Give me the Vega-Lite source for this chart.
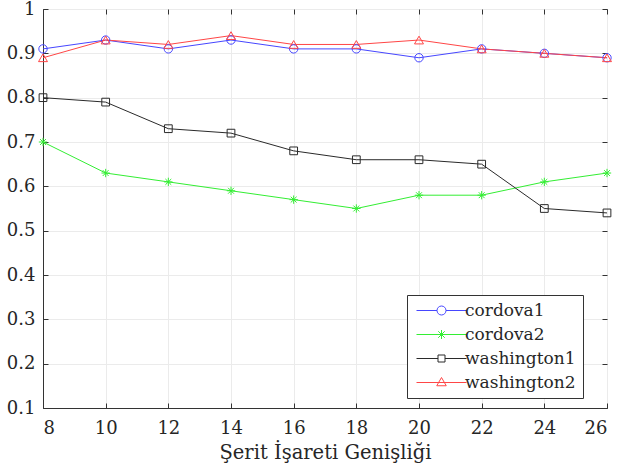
{
  "$schema": "https://vega.github.io/schema/vega-lite/v6.json",
  "width": 564,
  "height": 399,
  "autosize": {"type": "none"},
  "padding": {"left": 43, "top": 9, "right": 12, "bottom": 66},
  "background": "white",
  "config": {
    "font": "DejaVu Serif",
    "view": {"stroke": "#333333", "strokeWidth": 1},
    "axis": {
      "gridColor": "#ebebeb",
      "gridWidth": 1,
      "tickSize": -5,
      "tickColor": "#333333",
      "domainColor": "#333333",
      "labelFont": "DejaVu Serif",
      "labelFontSize": 18,
      "labelColor": "#262626",
      "titleFont": "DejaVu Serif",
      "titleFontSize": 19.5,
      "titleFontWeight": "normal",
      "titleColor": "#262626"
    },
    "legend": {"labelFont": "DejaVu Serif"}
  },
  "data": {
    "values": [
      {"x": 8, "v": 0.91, "s": "cordova1"},
      {"x": 10, "v": 0.93, "s": "cordova1"},
      {"x": 12, "v": 0.91, "s": "cordova1"},
      {"x": 14, "v": 0.93, "s": "cordova1"},
      {"x": 16, "v": 0.91, "s": "cordova1"},
      {"x": 18, "v": 0.91, "s": "cordova1"},
      {"x": 20, "v": 0.89, "s": "cordova1"},
      {"x": 22, "v": 0.91, "s": "cordova1"},
      {"x": 24, "v": 0.90, "s": "cordova1"},
      {"x": 26, "v": 0.89, "s": "cordova1"},
      {"x": 8, "v": 0.70, "s": "cordova2"},
      {"x": 10, "v": 0.63, "s": "cordova2"},
      {"x": 12, "v": 0.61, "s": "cordova2"},
      {"x": 14, "v": 0.59, "s": "cordova2"},
      {"x": 16, "v": 0.57, "s": "cordova2"},
      {"x": 18, "v": 0.55, "s": "cordova2"},
      {"x": 20, "v": 0.58, "s": "cordova2"},
      {"x": 22, "v": 0.58, "s": "cordova2"},
      {"x": 24, "v": 0.61, "s": "cordova2"},
      {"x": 26, "v": 0.63, "s": "cordova2"},
      {"x": 8, "v": 0.80, "s": "washington1"},
      {"x": 10, "v": 0.79, "s": "washington1"},
      {"x": 12, "v": 0.73, "s": "washington1"},
      {"x": 14, "v": 0.72, "s": "washington1"},
      {"x": 16, "v": 0.68, "s": "washington1"},
      {"x": 18, "v": 0.66, "s": "washington1"},
      {"x": 20, "v": 0.66, "s": "washington1"},
      {"x": 22, "v": 0.65, "s": "washington1"},
      {"x": 24, "v": 0.55, "s": "washington1"},
      {"x": 26, "v": 0.54, "s": "washington1"},
      {"x": 8, "v": 0.89, "s": "washington2"},
      {"x": 10, "v": 0.93, "s": "washington2"},
      {"x": 12, "v": 0.92, "s": "washington2"},
      {"x": 14, "v": 0.94, "s": "washington2"},
      {"x": 16, "v": 0.92, "s": "washington2"},
      {"x": 18, "v": 0.92, "s": "washington2"},
      {"x": 20, "v": 0.93, "s": "washington2"},
      {"x": 22, "v": 0.91, "s": "washington2"},
      {"x": 24, "v": 0.90, "s": "washington2"},
      {"x": 26, "v": 0.89, "s": "washington2"}
    ]
  },
  "layer": [
    {
      "encoding": {
        "x": {
          "field": "x",
          "type": "quantitative",
          "scale": {"domain": [8, 26], "nice": false, "zero": false},
          "axis": {
            "title": "Şerit İşareti Genişliği",
            "values": [8, 10, 12, 14, 16, 18, 20, 22, 24, 26],
            "labelPadding": 16,
            "titlePadding": 6
          }
        },
        "y": {
          "field": "v",
          "type": "quantitative",
          "scale": {"domain": [0.1, 1], "nice": false, "zero": false},
          "axis": {
            "title": null,
            "values": [0.1, 0.2, 0.3, 0.4, 0.5, 0.6, 0.7, 0.8, 0.9, 1],
            "format": "~g",
            "labelPadding": 13
          }
        },
        "color": {
          "field": "s",
          "type": "nominal",
          "scale": {
            "domain": ["cordova1", "cordova2", "washington1", "washington2"],
            "range": ["#4646ff", "#33ee33", "#2a2a2a", "#ff4646"]
          },
          "legend": {
            "title": null,
            "orient": "none",
            "legendX": 364,
            "legendY": 286,
            "padding": 7,
            "strokeColor": "#333333",
            "fillColor": "white",
            "labelFont": "DejaVu Serif",
            "labelFontSize": 17,
            "labelColor": "#262626",
            "labelOffset": 15,
            "symbolOffset": 19,
            "symbolSize": 100,
            "symbolStrokeWidth": 1,
            "rowPadding": 6,
            "encode": {
              "symbols": {
                "update": {
                  "shape": {"signal": "datum.value === 'cordova1' ? 'M-5,0L-0.9,0M0.9,0L5,0M-0.9,0A0.9,0.9 0 1 1 0.9,0A0.9,0.9 0 1 1 -0.9,0' : datum.value === 'cordova2' ? 'M-5,0L5,0M0,-0.9L0,0.9M-0.65,-0.65L0.65,0.65M-0.65,0.65L0.65,-0.65' : datum.value === 'washington1' ? 'M-5,0L-0.7,0M0.7,0L5,0M-0.7,-0.7L0.7,-0.7L0.7,0.7L-0.7,0.7Z' : 'M-5,0L5,0M0,-1L0.95,0.65L-0.95,0.65Z'"},
                  "fill": {"value": "transparent"},
                  "strokeWidth": {"value": 1}
                }
              }
            }
          }
        }
      },
      "layer": [
        {"mark": {"type": "line", "strokeWidth": 1}},
        {
          "transform": [{"filter": "datum.s === 'cordova1'"}],
          "mark": {"type": "point", "shape": "circle", "filled": false, "strokeWidth": 1, "size": 70, "opacity": 1}
        },
        {
          "transform": [{"filter": "datum.s === 'cordova2'"}],
          "mark": {"type": "point", "shape": "M-1,0L1,0M0,-1L0,1M-0.7,-0.7L0.7,0.7M-0.7,0.7L0.7,-0.7", "filled": false, "strokeWidth": 1, "size": 70, "opacity": 1}
        },
        {
          "transform": [{"filter": "datum.s === 'washington1'"}],
          "mark": {"type": "point", "shape": "square", "filled": false, "strokeWidth": 1, "size": 60, "opacity": 1}
        },
        {
          "transform": [{"filter": "datum.s === 'washington2'"}],
          "mark": {"type": "point", "shape": "triangle-up", "filled": false, "strokeWidth": 1, "size": 80, "opacity": 1}
        }
      ]
    },
    {
      "mark": {"type": "point", "opacity": 0},
      "encoding": {
        "x": {
          "field": "x",
          "type": "quantitative",
          "scale": {"domain": [8, 26], "nice": false, "zero": false},
          "axis": {"orient": "top", "title": null, "labels": false, "grid": false, "domain": false, "values": [8, 10, 12, 14, 16, 18, 20, 22, 24, 26]}
        },
        "y": {
          "field": "v",
          "type": "quantitative",
          "scale": {"domain": [0.1, 1], "nice": false, "zero": false},
          "axis": {"orient": "right", "title": null, "labels": false, "grid": false, "domain": false, "values": [0.1, 0.2, 0.3, 0.4, 0.5, 0.6, 0.7, 0.8, 0.9, 1]}
        }
      }
    }
  ],
  "resolve": {"scale": {"x": "independent", "y": "independent"}, "axis": {"x": "independent", "y": "independent"}}
}
